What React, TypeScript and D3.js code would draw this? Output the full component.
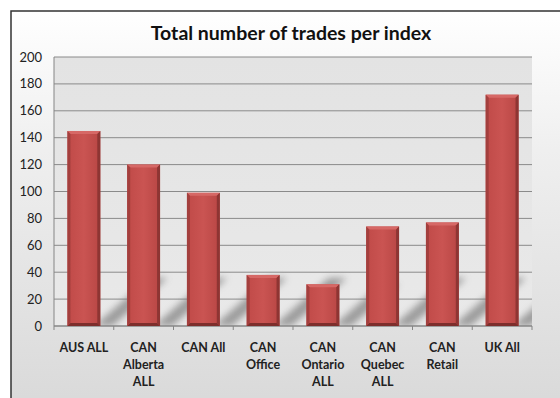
import React from "react";
import * as d3 from "d3";

const categories = [["AUS ALL"], ["CAN", "Alberta", "ALL"], ["CAN All"], ["CAN", "Office"], ["CAN", "Ontario", "ALL"], ["CAN", "Quebec", "ALL"], ["CAN", "Retail"], ["UK All"]];
const values = [145, 120, 99, 38, 31, 74, 77, 172];
const yTicks = [0, 20, 40, 60, 80, 100, 120, 140, 160, 180, 200];
const title = "Total number of trades per index";

export default function App() {
  const W = 560, H = 398;
  const left = 54, right = 532, top = 57, bottom = 326;
  const keys = categories.map((_, i) => String(i));
  const x = d3.scaleBand().domain(keys).range([left, right]).paddingInner(0.45).paddingOuter(0.225);
  const y = d3.scaleLinear().domain([0, 200]).range([bottom, top]);
  const step = x.step();
  const bw = x.bandwidth();
  const font = "Lato, 'Open Sans', sans-serif";
  return (
    <svg width={W} height={H} style={{ position: "absolute", left: 0, top: 0 }}>
      <defs>
        <linearGradient id="chartBg" x1="0" y1="0" x2="0" y2="1">
          <stop offset="0" stopColor="#ffffff" />
          <stop offset="0.35" stopColor="#efefef" />
          <stop offset="1" stopColor="#d9d9d9" />
        </linearGradient>
        <linearGradient id="plotBg" x1="0" y1="0" x2="0" y2="1">
          <stop offset="0" stopColor="#e3e3e3" />
          <stop offset="1" stopColor="#e9e9e9" />
        </linearGradient>
        <linearGradient id="barFill" x1="0" y1="0" x2="1" y2="0">
          <stop offset="0" stopColor="#c04a48" />
          <stop offset="0.5" stopColor="#ca5452" />
          <stop offset="1" stopColor="#b84644" />
        </linearGradient>
        <filter id="blur" x="-50%" y="-50%" width="200%" height="200%">
          <feGaussianBlur stdDeviation="3.5" />
        </filter>
        <clipPath id="plotClip">
          <rect x={left} y={top} width={right - left} height={bottom - top} />
        </clipPath>
      </defs>
      <rect x={0} y={0} width={W} height={H} fill="#ffffff" />
      <rect x={11} y={11} width={W} height={H} fill="url(#chartBg)" stroke="#333" strokeWidth={1.5} />
      <text x={291} y={40} textAnchor="middle" fontFamily={font} fontWeight="bold" fontSize={19.5} fill="#111">{title}</text>
      <rect x={left} y={top} width={right - left} height={bottom - top} fill="url(#plotBg)" />
      {yTicks.map(t => (
        <line key={t} x1={left} x2={right} y1={y(t)} y2={y(t)} stroke="#8a8a8a" strokeWidth={1} />
      ))}
      <g clipPath="url(#plotClip)">
        {values.map((v, i) => {
          const x0 = x(String(i))! + bw;
          const hgt = Math.min(y(0) - y(v), 48);
          const p = `M${x0 - 6},${bottom} L${x0 + 12},${bottom} L${x0 + 12 + hgt * 1.15},${bottom - hgt} L${x0 - 6 + hgt * 1.15},${bottom - hgt} Z`;
          return <path key={i} d={p} fill="#7a7a7a" opacity={0.7} filter="url(#blur)" />;
        })}
      </g>
      <line x1={left} x2={left} y1={top} y2={bottom} stroke="#858585" />
      <line x1={left} x2={right} y1={bottom} y2={bottom} stroke="#858585" />
      {d3.range(categories.length + 1).map(i => (
        <line key={i} x1={left + i * step} x2={left + i * step} y1={bottom} y2={bottom + 4} stroke="#858585" />
      ))}
      {values.map((v, i) => {
        const bx = x(String(i))!;
        const by = y(v);
        const bh = y(0) - by;
        const e = 3;
        return (
          <g key={i}>
            <rect x={bx} y={by} width={bw} height={bh} fill="url(#barFill)" />
            <path d={`M${bx},${by} L${bx + bw},${by} L${bx + bw - e},${by + e} L${bx + e},${by + e} Z`} fill="#d66866" />
            <path d={`M${bx + bw},${by} L${bx + bw},${by + bh} L${bx + bw - e},${by + bh - e} L${bx + bw - e},${by + e} Z`} fill="#8e3533" />
            <path d={`M${bx},${by + bh} L${bx + bw},${by + bh} L${bx + bw - e},${by + bh - e} L${bx + e},${by + bh - e} Z`} fill="#7d2e2c" />
            <path d={`M${bx},${by} L${bx + e},${by + e} L${bx + e},${by + bh - e} L${bx},${by + bh} Z`} fill="#a33f3d" />
          </g>
        );
      })}
      {yTicks.map(t => (
        <text key={t} x={42} y={y(t) + 4.5} textAnchor="end" fontFamily={font} fontSize={13} fill="#222">{t}</text>
      ))}
      {categories.map((lines, i) => (
        <text key={i} textAnchor="middle" fontFamily={font} fontWeight="bold" fontSize={12.5} fill="#222">
          {lines.map((l, j) => (
            <tspan key={j} x={x(String(i))! + bw / 2} y={352 + j * 17}>{l}</tspan>
          ))}
        </text>
      ))}
    </svg>
  );
}
